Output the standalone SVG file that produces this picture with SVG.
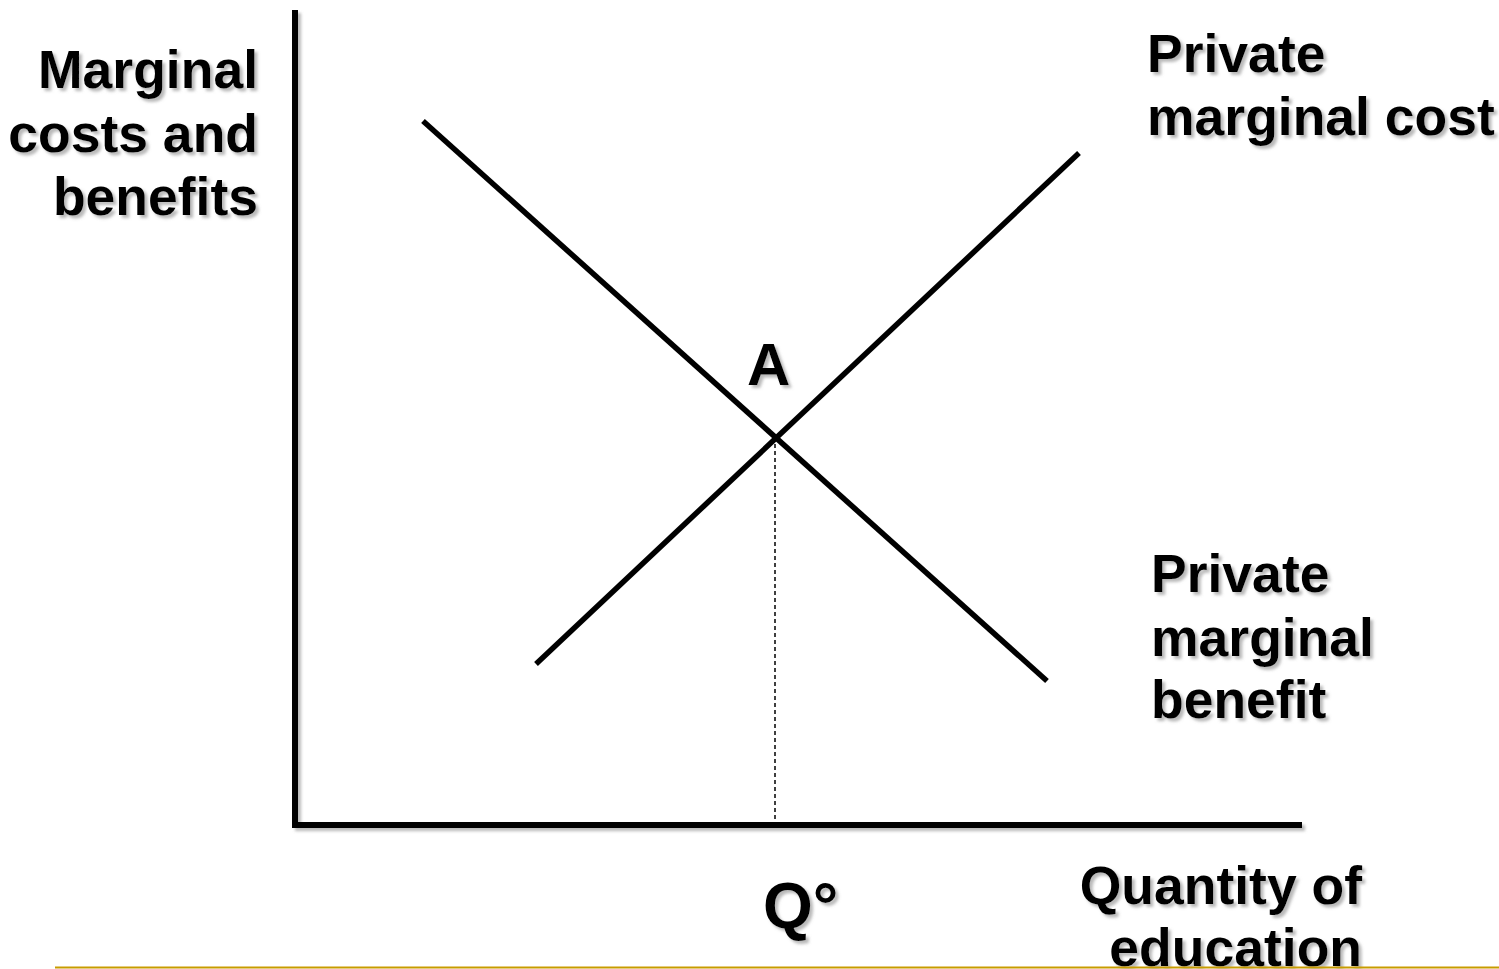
<svg xmlns="http://www.w3.org/2000/svg" width="1499" height="969" viewBox="0 0 1499 969">
<defs>
<filter id="sh" x="-10%" y="-10%" width="130%" height="140%">
<feDropShadow dx="3" dy="3" stdDeviation="1.5" flood-color="#808080" flood-opacity="0.55"/>
</filter>
<style>
text{font-family:"Liberation Sans",Arial,sans-serif;font-weight:bold;font-size:53.5px;fill:#000;}
.big{font-size:60px;}
.q{font-size:64px;}
.r{text-anchor:end;}
.ax{stroke:#000;stroke-width:6;fill:none;}
.cv{stroke:#000;stroke-width:5.5;fill:none;}
</style>
</defs>
<rect width="1499" height="969" fill="#fff"/>
<g id="axes" filter="url(#sh)">
<line class="ax" x1="295" y1="10" x2="295" y2="825"/>
<line class="ax" x1="292" y1="825" x2="1302" y2="825"/>
</g>
<g id="connectors">
<line id="mb" class="cv" x1="423" y1="121" x2="1047" y2="681"/>
<line id="mc" class="cv" x1="536" y1="664" x2="1079" y2="153"/>
<line id="drop" x1="775" y1="437" x2="775" y2="822" stroke="#000" stroke-width="1.5" stroke-dasharray="4,3"/>
</g>
<g id="ylabel" filter="url(#sh)">
<text class="r" x="258" y="88">Marginal</text>
<text class="r" x="258" y="152">costs and</text>
<text class="r" x="258" y="215">benefits</text>
</g>
<g id="mc-label" filter="url(#sh)">
<text x="1147" y="72">Private</text>
<text x="1147" y="135">marginal cost</text>
</g>
<g id="mb-label" filter="url(#sh)">
<text x="1151" y="592">Private</text>
<text x="1151" y="656">marginal</text>
<text x="1151" y="718">benefit</text>
</g>
<g id="point-a" filter="url(#sh)">
<text class="big" x="747" y="385">A</text>
</g>
<g id="q0" filter="url(#sh)">
<text class="q" x="763" y="928">Q°</text>
</g>
<g id="xlabel" filter="url(#sh)">
<text class="r" x="1362" y="904">Quantity of</text>
<text class="r" x="1362" y="966">education</text>
</g>
<line x1="55" y1="967.5" x2="1499" y2="967.5" stroke="#C89B00" stroke-width="2"/>
</svg>
